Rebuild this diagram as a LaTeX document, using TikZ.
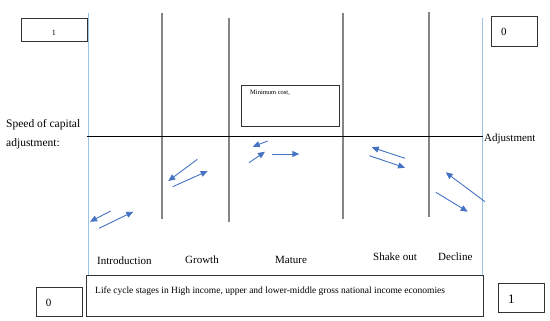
\documentclass[tikz,border=0pt]{standalone}
\usepackage{fontspec}
\setmainfont{Liberation Serif}
\usetikzlibrary{arrows.meta}
\definecolor{arrblue}{HTML}{4472C4}
\definecolor{lineblue}{HTML}{9DC3E6}
\definecolor{divgray}{HTML}{858585}
\begin{document}
\begin{tikzpicture}[x=1pt,y=-1pt,
  box/.style={draw=black!80, line width=0.8pt, anchor=north west, inner sep=0pt},
  arr/.style={draw=arrblue, line width=0.9pt, -{Triangle[length=7pt,width=6pt]}},
  divider/.style={draw=divgray, line width=1.6pt},
  edgeline/.style={draw=lineblue, line width=1pt},
  lbl/.style={anchor=base west, inner sep=0pt, font=\fontsize{11}{13}\selectfont},
  small/.style={anchor=base west, inner sep=0pt, font=\fontsize{9.5}{11}\selectfont}]
\useasboundingbox (0,0) rectangle (550,321);
\fill[white] (0,0) rectangle (550,321);

% boxes
\node[box, minimum width=66pt, minimum height=23pt] (boxTL) at (21,18) {};
\node[box, minimum width=46pt, minimum height=30pt] (boxTR) at (491,16) {};
\node[box, minimum width=98pt, minimum height=41pt] (boxMin) at (241,85) {};
\node[box, minimum width=397pt, minimum height=41pt] (boxBot) at (86,275) {};
\node[box, minimum width=46pt, minimum height=29pt] (boxBL) at (36,287) {};
\node[box, minimum width=46pt, minimum height=29pt] (boxBR) at (498,283) {};

% frame lines
\draw[edgeline] (88,13) -- (88,275);
\draw[edgeline] (482,18) -- (482,275);
\draw[divider] (162,13) -- (162,219);
\draw[divider] (229,18) -- (229,222);
\draw[divider] (343,13) -- (343,219);
\draw[divider] (429,12) -- (429,217);
\draw[black, line width=0.9pt] (87,136) -- (483,136);

% arrow end points
\coordinate (a1s) at (110.7,211);   \coordinate (a1e) at (90,221.7);
\coordinate (a2s) at (99,228.3);    \coordinate (a2e) at (133.3,211.7);
\coordinate (a3s) at (197.3,159.3); \coordinate (a3e) at (168.3,181);
\coordinate (a4s) at (172.7,186.7); \coordinate (a4e) at (207.7,171);
\coordinate (a5s) at (267.7,141);   \coordinate (a5e) at (252.7,146.7);
\coordinate (a6s) at (249,162.7);   \coordinate (a6e) at (265,151.7);
\coordinate (a7s) at (272.3,154);   \coordinate (a7e) at (299.3,154);
\coordinate (a8s) at (405,158.3);   \coordinate (a8e) at (371.7,147.3);
\coordinate (a9s) at (369.3,155.7); \coordinate (a9e) at (405,167.7);
\coordinate (a10s) at (485,201.7);  \coordinate (a10e) at (445.7,172.3);
\coordinate (a11s) at (436,192.3);  \coordinate (a11e) at (467.7,211.7);
\foreach \i in {1,...,11} {\draw[arr] (a\i s) -- (a\i e);}

% texts
\node[lbl, font=\fontsize{11.5}{13}\selectfont] (speed) at (6,128) {Speed of capital};
\node[lbl, font=\fontsize{11.5}{13}\selectfont] (adj) at (6,147) {adjustment:};
\node[lbl] (adjR) at (484,142) {Adjustment};
\node[lbl] (intro) at (97,264) {Introduction};
\node[lbl] (growth) at (185,263) {Growth};
\node[lbl] (mature) at (275,263) {Mature};
\node[lbl] (shake) at (373,260.5) {Shake out};
\node[lbl] (decline) at (438,260.5) {Decline};
\node[small] (lifecycle) at (95,294) {Life cycle stages in High income, upper and lower-middle gross national income economies};
\node[anchor=base west, inner sep=0pt, font=\fontsize{6.5}{8}\selectfont] (mincost) at (250,94.5) {Minimum cost,};
\node[anchor=base west, inner sep=0pt, font=\fontsize{8}{9}\selectfont] (t1) at (51.7,35.7) {1};
\node[anchor=base west, inner sep=0pt, font=\fontsize{11}{12}\selectfont] (t2) at (501,36) {0};
\node[anchor=base west, inner sep=0pt, font=\fontsize{11}{12}\selectfont] (t3) at (45.7,306.7) {0};
\node[anchor=base west, inner sep=0pt, font=\fontsize{13}{14}\selectfont] (t4) at (508,303.3) {1};
\end{tikzpicture}
\end{document}
